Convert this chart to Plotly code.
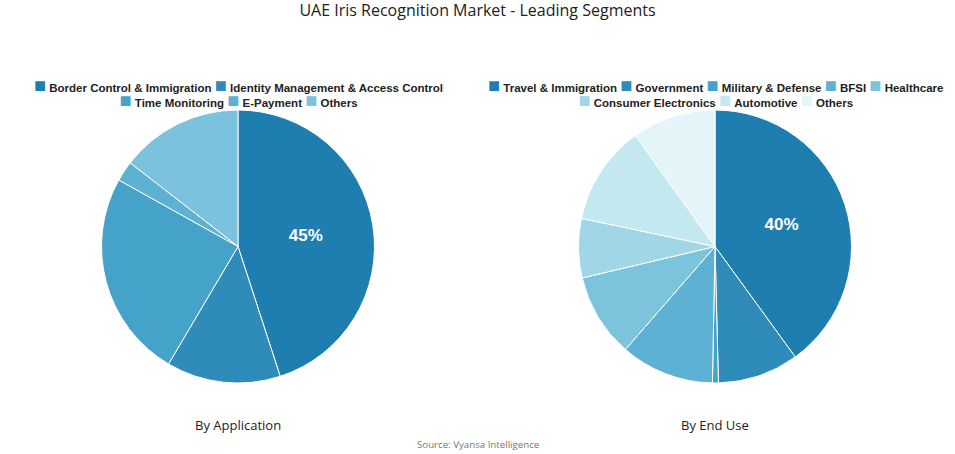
import plotly.graph_objects as go

app_labels = ["Border Control & Immigration", "Identity Management & Access Control",
              "Time Monitoring", "E-Payment", "Others"]
app_values = [45, 13.5, 24.6, 2.4, 14.5]
app_colors = ["#1f7eb0", "#2e8bba", "#45a2c8", "#5db1d2", "#7bc3dc"]
app_rows = [2, 3]   # legend items per row

end_labels = ["Travel & Immigration", "Government", "Military & Defense", "BFSI", "Healthcare",
              "Consumer Electronics", "Automotive", "Others"]
end_values = [40, 9.6, 0.7, 11.1, 9.9, 7.0, 11.8, 9.9]
end_colors = ["#1f7eb0", "#2e8bba", "#45a2c8", "#5db1d2", "#7cc4dc", "#a0d6e6", "#c3e8f0", "#e4f5f9"]
end_rows = [5, 3]

W, H = 955, 454
CX = [238, 715]          # pie centres (px)
LEGEND_Y = 92            # legend block centre (px)

def txt(vals):
    m = max(vals)
    return [f"{v:.0f}%" if v == m else "" for v in vals]

fig = go.Figure()
for labels, values, colors, cx in [(app_labels, app_values, app_colors, CX[0]),
                                   (end_labels, end_values, end_colors, CX[1])]:
    fig.add_trace(go.Pie(
        labels=labels, values=values, sort=False, direction="clockwise", rotation=0,
        marker=dict(colors=colors, line=dict(color="white", width=1)),
        text=txt(values), textinfo="text", textposition="inside",
        insidetextfont=dict(color="white", size=17, family="Liberation Sans", weight="bold"),
        hoverinfo="label+percent", showlegend=False,
        domain=dict(x=[(cx - 136.5) / W, (cx + 136.5) / W], y=[1 - 383 / H, 1 - 110 / H]),
    ))

annotations = []

def legend_block(labels, colors, rows, cx):
    i = 0
    lines = []
    for n in rows:
        parts = []
        for lab, col in zip(labels[i:i + n], colors[i:i + n]):
            parts.append(f'<span style="color:{col};font-size:20px">\u25A0</span>\u00a0{lab}')
        i += n
        lines.append("\u00a0".join(parts))
    annotations.append(dict(
        text="<br>".join(lines), x=cx / W, y=1 - LEGEND_Y / H, align="center",
        xref="paper", yref="paper", xanchor="center", yanchor="middle", showarrow=False,
        font=dict(family="Liberation Sans", size=11.5, color="#222", weight="bold")))

legend_block(app_labels, app_colors, app_rows, CX[0])
legend_block(end_labels, end_colors, end_rows, CX[1])

annotations += [
    dict(text="By Application", x=CX[0] / W, y=1 - 425 / H, xref="paper", yref="paper",
         xanchor="center", yanchor="middle",
         showarrow=False, font=dict(family="Open Sans", size=13, color="#222")),
    dict(text="By End Use", x=CX[1] / W, y=1 - 425 / H, xref="paper", yref="paper",
         xanchor="center", yanchor="middle",
         showarrow=False, font=dict(family="Open Sans", size=13, color="#222")),
    dict(text="Source: Vyansa Intelligence", x=0.5, y=1 - 444 / H, xref="paper", yref="paper",
         xanchor="center", yanchor="middle",
         showarrow=False, font=dict(family="Open Sans", size=9.7, color="#777")),
]

fig.update_layout(
    width=W, height=H,
    margin=dict(l=0, r=0, t=0, b=0),
    paper_bgcolor="white", plot_bgcolor="white",
    title=dict(text="UAE Iris Recognition Market - Leading Segments", x=0.5, xanchor="center",
               y=1 - 10 / H, yanchor="middle",
               font=dict(family="Open Sans", size=16, color="#222")),
    annotations=annotations,
)

fig.write_html("out.html")
